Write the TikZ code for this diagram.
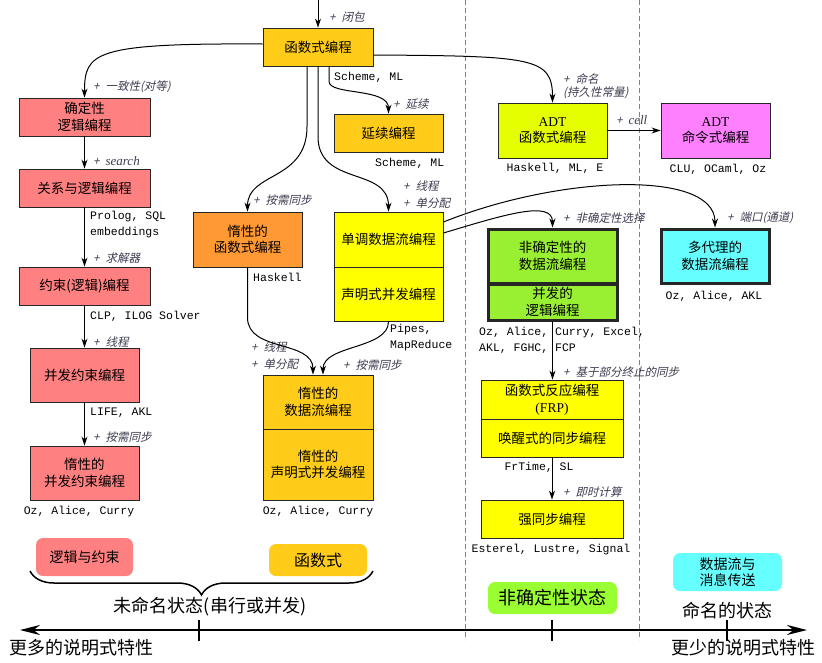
\documentclass[tikz,border=0pt]{standalone}
\usepackage{fontspec}
\setmainfont{Noto Sans CJK SC}
\newfontfamily\lblf[FakeSlant=0.22]{Noto Sans CJK SC}
\newfontfamily\pmono{Liberation Mono}
\newfontfamily\serf{Liberation Serif}
\usetikzlibrary{arrows.meta,decorations.pathreplacing}
\definecolor{cgold}{RGB}{255,204,26}
\definecolor{csalmon}{RGB}{255,128,128}
\definecolor{corange}{RGB}{255,153,51}
\definecolor{cyel}{RGB}{255,255,0}
\definecolor{cadt}{RGB}{230,255,0}
\definecolor{cmag}{RGB}{255,128,255}
\definecolor{cgreen}{RGB}{153,240,51}
\definecolor{cgreenr}{RGB}{153,255,51}
\definecolor{ccyan}{RGB}{102,255,255}
\definecolor{clbl}{RGB}{60,60,80}
\newcommand\plusl{+\hspace{6pt}}
\begin{document}
\begin{tikzpicture}[x=1pt,y=-1pt,
  pbox/.style={draw=black!85, line width=0.9pt, inner sep=0pt, align=center, font=\fontsize{13.5}{16.5}\selectfont},
  tbox/.style={pbox, line width=3pt},
  wh/.style 2 args={minimum width=#1pt, minimum height=#2pt},
  rbox/.style={rounded corners=7pt, inner sep=0pt, align=center},
  arr/.style={line width=1pt, -{Stealth[length=9pt,width=6pt]}},
  lbl/.style={font=\lblf\fontsize{11.5}{13}\selectfont, text=clbl, inner sep=0pt, anchor=west, align=left},
  prog/.style={font=\pmono\fontsize{11.5}{16}\selectfont, inner sep=0pt, align=left},
  big/.style={font=\fontsize{18}{20}\selectfont, inner sep=0pt},
  sep/.style={draw=gray, line width=1pt, dash pattern=on 5pt off 3pt},
]
\useasboundingbox (0,0) rectangle (822,662);

% dashed separators
\coordinate (s1t) at (465,0); \coordinate (s1b) at (465,640);
\coordinate (s2t) at (639,0); \coordinate (s2b) at (639,640);
\draw[sep] (s1t) -- (s1b);
\draw[sep] (s2t) -- (s2b);

% boxes
\node[pbox, fill=cgold, wh={110}{38}] (fp) at (318,47) {函数式编程};
\node[pbox, fill=csalmon, wh={131}{38}] (det) at (84.5,117) {确定性\\逻辑编程};
\node[pbox, fill=csalmon, wh={131}{38}] (rel) at (84.5,188) {关系与逻辑编程};
\node[pbox, fill=csalmon, wh={131}{38}] (cons) at (84.5,286) {约束(逻辑)编程};
\node[pbox, fill=csalmon, wh={109}{54}] (ccp) at (84.5,375) {并发约束编程};
\node[pbox, fill=csalmon, wh={109}{54}] (lccp) at (84.5,473) {惰性的\\并发约束编程};
\node[pbox, fill=cgold, wh={109}{38}] (cont) at (388.5,133) {延续编程};
\node[pbox, fill=corange, wh={109}{55}] (lfp) at (247.5,239.5) {惰性的\\函数式编程};
\node[pbox, fill=cyel, wh={109}{55}] (mono) at (388.5,239.5) {单调数据流编程};
\node[pbox, fill=cyel, wh={109}{54}] (dcp) at (388.5,294) {声明式并发编程};
\node[pbox, fill=cgold, wh={110}{54}] (ldf) at (318,402) {惰性的\\数据流编程};
\node[pbox, fill=cgold, wh={110}{71}] (ldcp) at (318,464.5) {惰性的\\声明式并发编程};
\node[pbox, fill=cadt, wh={109}{55}] (adtf) at (552.5,130.5) {{\serf ADT}\\函数式编程};
\node[pbox, fill=cmag, wh={109}{55}] (adti) at (715.5,130.5) {{\serf ADT}\\命令式编程};
\node[tbox, fill=cgreen, wh={129}{54}] (ndf) at (552.5,256) {非确定性的\\数据流编程};
\node[tbox, fill=cgreen, wh={129}{36}] (clp) at (552.5,302) {并发的\\逻辑编程};
\node[tbox, fill=ccyan, wh={108}{54}] (mad) at (715,256) {多代理的\\数据流编程};
\node[pbox, fill=cyel, wh={142}{39}] (frp) at (552,399.5) {函数式反应编程\\{\serf (FRP)}};
\node[pbox, fill=cyel, wh={142}{38}] (wake) at (552,438) {唤醒式的同步编程};
\node[pbox, fill=cyel, wh={142}{38}] (strong) at (552,519) {强同步编程};

% rounded category boxes
\node[rbox, fill=csalmon, wh={97}{38}, font=\fontsize{14}{16}\selectfont] (lc) at (84.5,557) {逻辑与约束};
\node[rbox, fill=cgold, wh={98}{32}, font=\fontsize{16}{18}\selectfont] (fn) at (318,560) {函数式};
\node[rbox, fill=cgreenr, wh={129}{32}, font=\fontsize{18}{20}\selectfont] (nd) at (552.5,598) {非确定性状态};
\node[rbox, fill=ccyan, wh={109}{38}, font=\fontsize{14}{16}\selectfont] (dm) at (727.5,572) {数据流与\\消息传送};

% program lists
\node[prog, anchor=west] (p1) at (334,77) {Scheme, ML};
\node[prog, anchor=west] (p2) at (375,163) {Scheme, ML};
\node[prog, anchor=west] (p3) at (90,225) {Prolog, SQL\\embeddings};
\node[prog, anchor=west] (p4) at (90,316) {CLP, ILOG Solver};
\node[prog, anchor=west] (p5) at (90,413) {LIFE, AKL};
\node[prog] (p6) at (79,512) {Oz, Alice, Curry};
\node[prog, anchor=west] (p7) at (253,277) {Haskell};
\node[prog, anchor=west] (p8) at (390,338) {Pipes,\\MapReduce};
\node[prog] (p9) at (318,512) {Oz, Alice, Curry};
\node[prog] (p10) at (555,168) {Haskell, ML, E};
\node[prog] (p11) at (718,169) {CLU, OCaml, Oz};
\node[prog] (p12) at (714,296) {Oz, Alice, AKL};
\node[prog, anchor=west] (p13) at (479,340) {Oz, Alice, Curry, Excel,\\AKL, FGHC, FCP};
\node[prog] (p14) at (539,467) {FrTime, SL};
\node[prog] (p15) at (551,550) {Esterel, Lustre, Signal};

% italic labels
\node[lbl] (l1) at (329,17) {\plusl 闭包};
\node[lbl] (l2) at (93,87) {\plusl 一致性(对等)};
\node[lbl] (l3) at (93,161) {\plusl{\serf\itshape\fontsize{13}{14}\selectfont search}};
\node[lbl] (l4) at (93,258) {\plusl 求解器};
\node[lbl] (l5) at (93,342) {\plusl 线程};
\node[lbl] (l6) at (93,437) {\plusl 按需同步};
\node[lbl] (l7) at (393,104) {\plusl 延续};
\node[lbl] (l8) at (253,200) {\plusl 按需同步};
\node[lbl] (l9) at (403,186) {\plusl 线程};
\node[lbl] (l10) at (403,203) {\plusl 单分配};
\node[lbl] (l11) at (251,347) {\plusl 线程};
\node[lbl] (l12) at (251,364) {\plusl 单分配};
\node[lbl] (l13) at (343,365) {\plusl 按需同步};
\node[lbl] (l14) at (563,86) {\plusl 命名\\(持久性常量)};
\node[lbl] (l15) at (616,120) {\plusl{\serf\itshape\fontsize{13}{14}\selectfont cell}};
\node[lbl] (l16) at (563,218) {\plusl 非确定性选择};
\node[lbl] (l17) at (727,218) {\plusl 端口(通道)};
\node[lbl] (l18) at (563,372) {\plusl 基于部分终止的同步};
\node[lbl] (l19) at (563,492) {\plusl 即时计算};

% connectors
\coordinate (top) at (318,0);
\draw[arr] (top) -- (fp.north);
\draw[arr] ([yshift=3pt]fp.west) .. controls +(-170,-1) and +(0,-45) .. (det.north);
\draw[arr] ([yshift=-8pt]fp.east) .. controls +(160,1) and +(0,-45) .. (adtf.north);
\draw[arr] ([xshift=11pt]fp.south) -- ++(0,15) .. controls +(0,14) and +(0,-26) .. (cont.north);
\draw[arr] ([xshift=-11pt]fp.south) -- ++(0,60) .. controls +(0,55) and +(0,-40) .. (lfp.north);
\draw[arr] (fp.south) -- ++(0,70) .. controls +(0,50) and +(0,-45) .. (mono.north);
\draw[arr] (det.south) -- (rel.north);
\draw[arr] (rel.south) -- (cons.north);
\draw[arr] (cons.south) -- (ccp.north);
\draw[arr] (ccp.south) -- (lccp.north);
\draw[arr] (lfp.south) -- ++(0,50) .. controls +(0,35) and +(0,-35) .. ([xshift=-5pt]ldf.north);
\draw[arr] (dcp.south) .. controls +(0,28) and +(0,-30) .. ([xshift=5pt]ldf.north);
\draw[arr] ([yshift=6.5pt]mono.east) .. controls +(60,-18) and +(0,-28) .. (ndf.north);
\draw[arr] ([yshift=17.5pt]mono.east) .. controls +(117,-47) and +(0,-58) .. (mad.north);
\draw[arr] (adtf.east) -- (adti.west);
\draw[arr] (clp.south) -- (clp.south |- frp.north);
\draw[arr] (wake.south) -- (strong.north);

% brace
\coordinate (br) at (373,571); \coordinate (bl) at (30,571);
\draw[line width=1.5pt, decorate, decoration={brace, amplitude=24pt}] (br) -- (bl);
\node[big] (unn) at (210,607) {未命名状态(串行或并发)};

% axis
\coordinate (axl) at (20,630); \coordinate (axr) at (807,630);
\draw[line width=2.5pt, {Stealth[length=20pt,width=10pt]}-{Stealth[length=20pt,width=10pt]}] (axl) -- (axr);
\coordinate (t1a) at (199,620); \coordinate (t1b) at (199,641);
\coordinate (t2a) at (552,620); \coordinate (t2b) at (552,641);
\coordinate (t3a) at (727,620); \coordinate (t3b) at (727,641);
\draw[line width=2.5pt] (t1a) -- (t1b);
\draw[line width=2.5pt] (t2a) -- (t2b);
\draw[line width=2.5pt] (t3a) -- (t3b);
\node[big, anchor=west] (more) at (9,648) {更多的说明式特性};
\node[big, anchor=east] (less) at (816,648) {更少的说明式特性};
\node[big] (named) at (727,611) {命名的状态};
\end{tikzpicture}
\end{document}
